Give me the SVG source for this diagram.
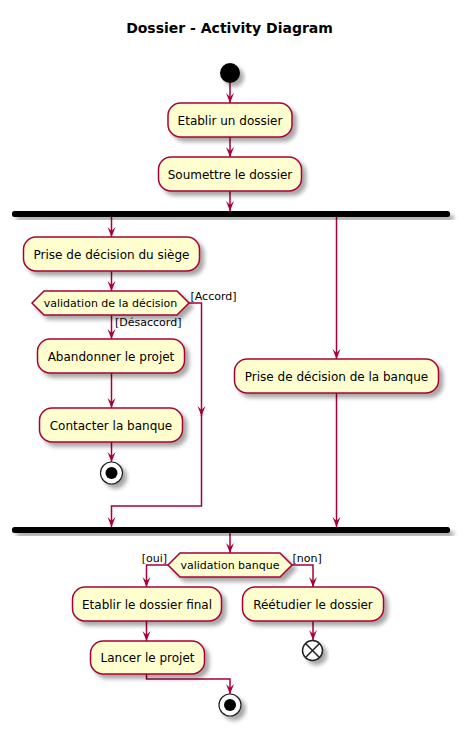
<svg xmlns="http://www.w3.org/2000/svg" width="466" height="732" viewBox="0 0 466 732">
<defs>
<filter id="sh" x="-20%" y="-20%" width="150%" height="160%">
<feGaussianBlur in="SourceAlpha" stdDeviation="2"/>
<feOffset dx="4" dy="4" result="b"/>
<feComponentTransfer><feFuncA type="linear" slope="0.35"/></feComponentTransfer>
<feMerge><feMergeNode/><feMergeNode in="SourceGraphic"/></feMerge>
</filter>
<marker id="ah" viewBox="0 0 10 10" refX="10" refY="5" markerWidth="10" markerHeight="10" markerUnits="userSpaceOnUse" orient="auto">
<path d="M0,1 L10,5 L0,9 L4,5 Z" fill="#A80036"/>
</marker>
</defs>
<style>
.act{fill:#FEFECE;stroke:#A80036;stroke-width:1.5}
.t{font-family:"DejaVu Sans",sans-serif;font-size:12px;fill:#000;text-anchor:middle}
.g{font-family:"DejaVu Sans",sans-serif;font-size:11px;fill:#000}
.c{fill:none;stroke:#A80036;stroke-width:1.5}
.bar{fill:#000}
</style>
<rect width="466" height="732" fill="#fff"/>
<text x="229.5" y="33" style="font-family:'DejaVu Sans',sans-serif;font-size:14px;font-weight:bold;text-anchor:middle">Dossier - Activity Diagram</text>

<g id="connectors">
<path class="c" d="M230,83 L230,103" marker-end="url(#ah)"/>
<path class="c" d="M230,137 L230,157" marker-end="url(#ah)"/>
<path class="c" d="M230,191 L230,211" marker-end="url(#ah)"/>
<path class="c" d="M111.5,217 L111.5,237" marker-end="url(#ah)"/>
<path class="c" d="M336.5,217 L336.5,359" marker-end="url(#ah)"/>
<path class="c" d="M111.5,271 L111.5,291" marker-end="url(#ah)"/>
<path class="c" d="M111.5,315 L111.5,339" marker-end="url(#ah)"/>
<path class="c" d="M111.5,373 L111.5,408" marker-end="url(#ah)"/>
<path class="c" d="M111.5,442 L111.5,462" marker-end="url(#ah)"/>
<path class="c" d="M189,303 L201.5,303 L201.5,416" marker-end="url(#ah)"/>
<path class="c" d="M201.5,410 L201.5,506 L111.5,506 L111.5,527" marker-end="url(#ah)"/>
<path class="c" d="M336.5,393 L336.5,527" marker-end="url(#ah)"/>
<path class="c" d="M230,533 L230,553" marker-end="url(#ah)"/>
<path class="c" d="M168,565 L146.5,565 L146.5,587" marker-end="url(#ah)"/>
<path class="c" d="M292,565 L313,565 L313,587" marker-end="url(#ah)"/>
<path class="c" d="M146.5,621 L146.5,641" marker-end="url(#ah)"/>
<path class="c" d="M313,621 L313,640" marker-end="url(#ah)"/>
<path class="c" d="M146.5,674 L146.5,679 L230,679 L230,694" marker-end="url(#ah)"/>
<text class="g" x="190.5" y="300">[Accord]</text>
<text class="g" x="115" y="326">[Désaccord]</text>
<text class="g" x="167" y="562" text-anchor="end" style="text-anchor:end">[oui]</text>
<text class="g" x="292.5" y="562">[non]</text>
</g>

<g id="start"><circle cx="230" cy="73" r="10" fill="#000" filter="url(#sh)"/></g>

<g id="etablir_dossier"><rect class="act" x="168" y="103" width="124" height="34" rx="12.5" filter="url(#sh)"/><text class="t" x="230" y="124.5">Etablir un dossier</text></g>

<g id="soumettre"><rect class="act" x="158.5" y="157" width="143" height="34" rx="12.5" filter="url(#sh)"/><text class="t" x="230" y="178.5">Soumettre le dossier</text></g>

<g id="fork"><rect class="bar" x="12" y="211" width="438" height="6" rx="2.5" filter="url(#sh)"/></g>

<g id="decision_siege"><rect class="act" x="23.5" y="237" width="176" height="34" rx="12.5" filter="url(#sh)"/><text class="t" x="111.5" y="258.5">Prise de décision du siège</text></g>

<g id="validation_decision"><polygon class="act" points="32,303 44,291 177,291 189,303 177,315 44,315" filter="url(#sh)"/><text class="t" x="110.5" y="307" style="font-size:11px">validation de la décision</text></g>

<g id="abandonner"><rect class="act" x="37.5" y="339" width="147" height="34" rx="12.5" filter="url(#sh)"/><text class="t" x="111" y="360.5">Abandonner le projet</text></g>

<g id="contacter"><rect class="act" x="39.5" y="408" width="143" height="34" rx="12.5" filter="url(#sh)"/><text class="t" x="111" y="429.5">Contacter la banque</text></g>

<g id="stop1"><circle cx="111.5" cy="473" r="11" fill="#fff" stroke="#222" stroke-width="1.2" filter="url(#sh)"/><circle cx="111.5" cy="473" r="6" fill="#000"/></g>

<g id="decision_banque"><rect class="act" x="234.5" y="359" width="204" height="34" rx="12.5" filter="url(#sh)"/><text class="t" x="336.5" y="380.5">Prise de décision de la banque</text></g>

<g id="join"><rect class="bar" x="12" y="527" width="438" height="6" rx="2.5" filter="url(#sh)"/></g>

<g id="validation_banque"><polygon class="act" points="168,565 180,553 280,553 292,565 280,577 180,577" filter="url(#sh)"/><text class="t" x="230" y="569" style="font-size:11px">validation banque</text></g>

<g id="dossier_final"><rect class="act" x="72.5" y="587" width="149" height="34" rx="12.5" filter="url(#sh)"/><text class="t" x="147" y="608.5">Etablir le dossier final</text></g>

<g id="reetudier"><rect class="act" x="242.5" y="587" width="141" height="34" rx="12.5" filter="url(#sh)"/><text class="t" x="313" y="608.5">Réétudier le dossier</text></g>

<g id="end_x"><circle cx="312.5" cy="650.5" r="10" fill="#fff" stroke="#222" stroke-width="1.5" filter="url(#sh)"/><path d="M305.5,643.5 L319.5,657.5 M319.5,643.5 L305.5,657.5" stroke="#222" stroke-width="1.5"/></g>

<g id="lancer"><rect class="act" x="90.5" y="641" width="114" height="33" rx="12.5" filter="url(#sh)"/><text class="t" x="147.5" y="662">Lancer le projet</text></g>

<g id="stop2"><circle cx="230" cy="705" r="11" fill="#fff" stroke="#222" stroke-width="1.2" filter="url(#sh)"/><circle cx="230" cy="705" r="6" fill="#000"/></g>
</svg>
